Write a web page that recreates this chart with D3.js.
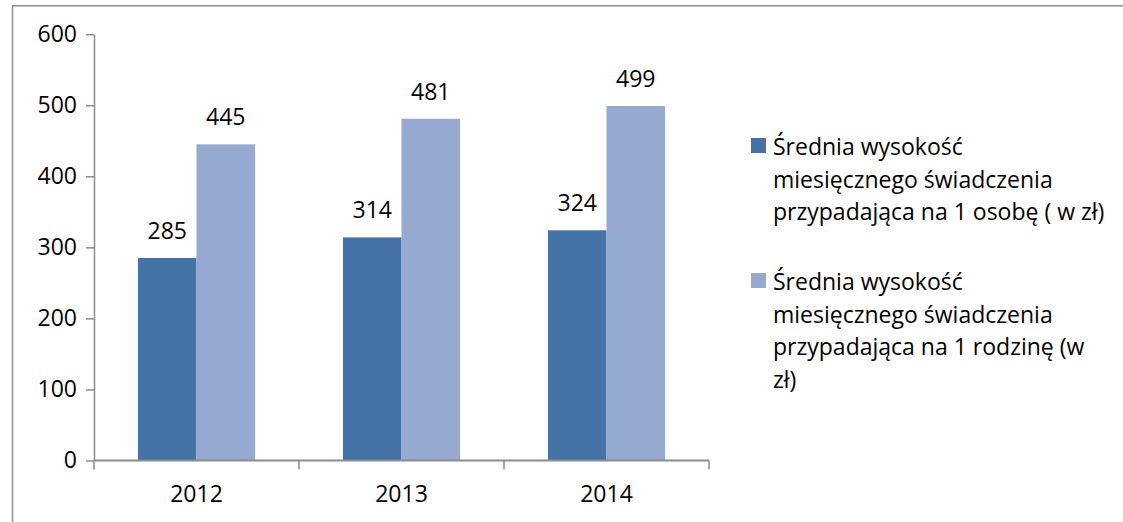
<!DOCTYPE html>
<html>
<head>
<meta charset="utf-8">
<script src="https://d3js.org/d3.v7.min.js"></script>
<style>
  body { margin: 0; background: #fff; overflow: hidden; }
  svg { display: block; }
  text { font-family: "Open Sans", Lato, sans-serif; fill: #000; }
</style>
</head>
<body>
<div id="chart"></div>

<script type="text/javascript">
  // Data
  var years = ["2012", "2013", "2014"];
  var perPerson = [285, 314, 324];
  var perFamily = [445, 481, 499];
  var yTicks = [0, 100, 200, 300, 400, 500, 600];
  var seriesNames = [
    ["Średnia wysokość", "miesięcznego świadczenia", "przypadająca na 1 osobę ( w zł)"],
    ["Średnia wysokość", "miesięcznego świadczenia", "przypadająca na 1 rodzinę (w", "zł)"]
  ];
  var colors = ["#4572a7", "#95a9d1"];

  var width = 1123, height = 522;
  var svg = d3.select("#chart").append("svg")
      .attr("width", width)
      .attr("height", height);

  // outer frame: only left and top edges are inside the picture
  svg.append("path")
      .attr("d", "M12.5," + height + "V5.75H" + width)
      .attr("fill", "none")
      .attr("stroke", "#8e8e8e")
      .attr("stroke-width", 1.5);

  var plot = { left: 94, right: 709, top: 34.2, bottom: 460.5 };
  var fontSize = "23px";

  var x = d3.scaleBand()
      .domain(years)
      .range([plot.left, plot.right]);

  var x1 = d3.scaleBand()
      .domain([0, 1])
      .range([0, x.bandwidth()])
      .paddingOuter(0.75);

  var y = d3.scaleLinear()
      .domain([0, 600])
      .range([plot.bottom, plot.top]);

  // Bars
  var series = [perPerson, perFamily];
  series.forEach(function (vals, s) {
    svg.append("g").selectAll("rect")
      .data(vals)
      .enter()
      .append("rect")
        .attr("x", function (d, i) { return x(years[i]) + x1(s); })
        .attr("y", function (d) { return y(d); })
        .attr("width", x1.bandwidth())
        .attr("height", function (d) { return y(0) - y(d); })
        .attr("fill", colors[s]);

    svg.append("g").selectAll("text")
      .data(vals)
      .enter()
      .append("text")
        .attr("x", function (d, i) { return x(years[i]) + x1(s) + x1.bandwidth() / 2; })
        .attr("y", function (d) { return y(d) - 19; })
        .attr("text-anchor", "middle")
        .style("font-size", fontSize)
        .text(function (d) { return d; });
  });

  // Y axis
  var yAxis = svg.append("g")
      .attr("transform", "translate(" + plot.left + ",0)")
      .call(d3.axisLeft(y).tickValues(yTicks).tickSize(8).tickPadding(9).tickSizeOuter(0));

  // X axis
  var xAxis = svg.append("g")
      .attr("transform", "translate(0," + plot.bottom + ")")
      .call(d3.axisBottom(x).tickSize(0).tickPadding(25));

  xAxis.selectAll(".domain").remove();
  xAxis.append("line")
      .attr("x1", plot.left).attr("x2", plot.right)
      .attr("stroke", "#8c8c8c").attr("stroke-width", 2);
  xAxis.selectAll("g.sep")
      .data([plot.left].concat(years.map(function (d) { return x(d) + x.bandwidth(); })))
      .enter()
      .append("line")
        .attr("x1", function (d) { return d; })
        .attr("x2", function (d) { return d; })
        .attr("y1", 0).attr("y2", 9)
        .attr("stroke", "#8c8c8c").attr("stroke-width", 1.5);

  [yAxis, xAxis].forEach(function (ax) {
    ax.selectAll(".domain").attr("stroke", "#8c8c8c").attr("stroke-width", 1.5);
    ax.selectAll(".tick line").attr("stroke", "#8c8c8c").attr("stroke-width", 1.5);
    ax.selectAll(".tick text")
      .style("font-family", "'Open Sans', Lato, sans-serif")
      .style("font-size", fontSize)
      .attr("fill", "#000");
  });

  // Legend
  var legendTop = [155, 290];
  seriesNames.forEach(function (lines, s) {
    var g = svg.append("g");
    g.append("rect")
      .attr("x", 751).attr("y", legendTop[s] - 17)
      .attr("width", 15).attr("height", 15)
      .attr("fill", colors[s]);
    var t = g.append("text")
      .attr("x", 773).attr("y", legendTop[s])
      .style("font-size", fontSize);
    lines.forEach(function (line, i) {
      t.append("tspan")
        .attr("x", 773)
        .attr("y", legendTop[s] + i * 32.7)
        .text(line);
    });
  });
</script>
</body>
</html>
